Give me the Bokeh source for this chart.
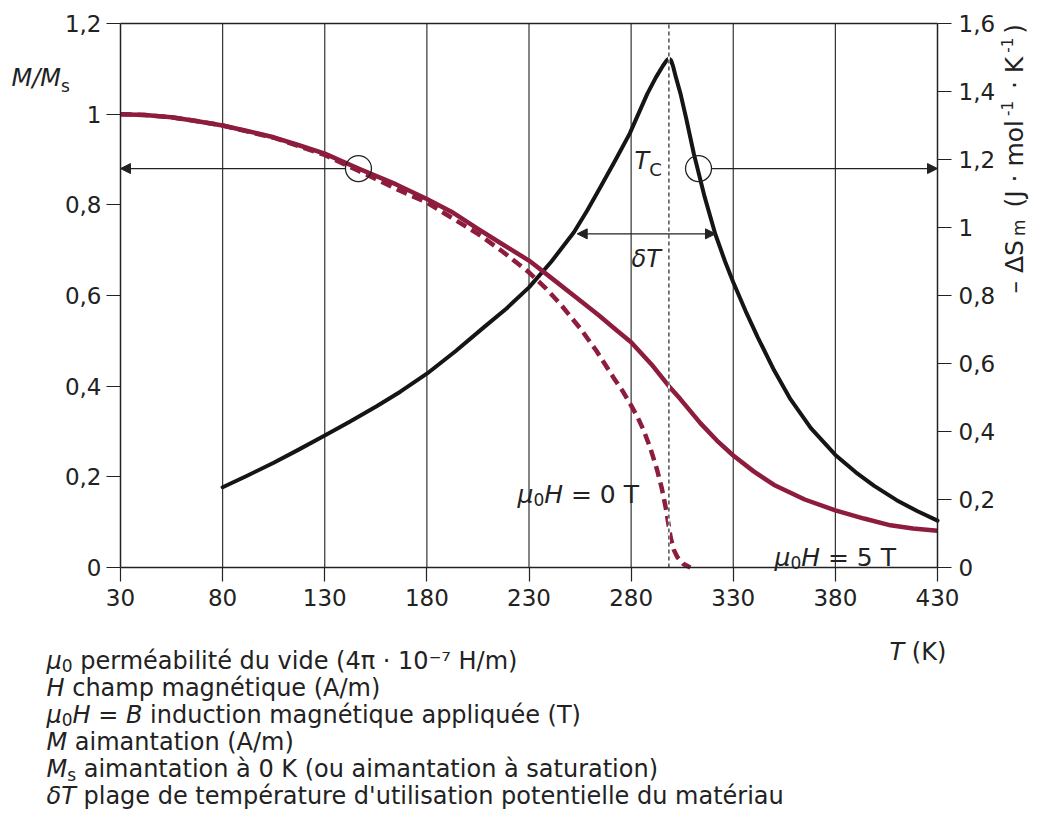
import math
from bokeh.plotting import figure
from bokeh.models import (Range1d, LinearAxis, FixedTicker, Label, Arrow, NormalHead,
                          CustomJSTickFormatter)
from bokeh.embed import file_html
from bokeh.resources import INLINE

# ---------------- data ----------------
x_ticks = [30, 80, 130, 180, 230, 280, 330, 380, 430]
m_ticks = [0, 0.2, 0.4, 0.6, 0.8, 1, 1.2]
s_ticks = [0, 0.2, 0.4, 0.6, 0.8, 1, 1.2, 1.4, 1.6]

# M/Ms, mu0H = 5 T (solid)
T_5T = [30, 42, 55, 67, 80, 92, 105, 117, 130, 146.5, 155, 165, 180, 192, 205, 217, 230,
        242, 255, 264, 273, 280, 290, 298.5, 304, 309, 314, 322, 330, 340, 350, 365, 380,
        394, 407, 418, 430]
M_5T = [1.0, 0.998, 0.993, 0.985, 0.975, 0.963, 0.949, 0.932, 0.913, 0.88, 0.864, 0.845,
        0.813, 0.785, 0.747, 0.713, 0.677, 0.635, 0.589, 0.557, 0.523, 0.497, 0.448, 0.400,
        0.372, 0.345, 0.318, 0.280, 0.247, 0.212, 0.182, 0.150, 0.126, 0.108, 0.093, 0.086,
        0.081]

# M/Ms, mu0H = 0 T (dashed)
T_0T = [30, 42, 55, 67, 80, 92, 105, 117, 130, 146.5, 155, 165, 180, 192, 205, 217, 230,
        238, 245, 255, 263, 271.5, 276, 279.7, 283, 286.2, 289.5, 292.8, 295, 296.9, 298.3,
        299.3, 300.8, 302.6, 305.5, 309]
M_0T = [1.0, 0.998, 0.993, 0.985, 0.975, 0.962, 0.948, 0.930, 0.910, 0.875, 0.857, 0.835,
        0.805, 0.772, 0.736, 0.697, 0.651, 0.617, 0.583, 0.528, 0.478, 0.418, 0.388, 0.360,
        0.333, 0.302, 0.262, 0.214, 0.175, 0.133, 0.095, 0.067, 0.040, 0.023, 0.008, 0.0]

# -Delta S_m (right axis, J/(mol K))
T_S = [80, 92, 105, 117, 130, 142, 155.6, 167, 180, 194, 208, 219, 230, 241, 252, 258.5,
       265, 272, 279.3, 284, 287.9, 292, 295.5, 297.5, 298.5, 299.5, 300.5, 302, 304.2, 307,
       310.7, 316, 321.2, 326, 330, 336, 342, 350, 358, 368, 380, 390, 399, 410, 420, 430]
S_m = [0.236, 0.270, 0.308, 0.346, 0.388, 0.428, 0.475, 0.517, 0.570, 0.636, 0.707, 0.762,
       0.824, 0.900, 0.986, 1.050, 1.119, 1.195, 1.276, 1.340, 1.393, 1.440, 1.475, 1.492,
       1.497, 1.492, 1.475, 1.440, 1.393, 1.320, 1.217, 1.090, 0.981, 0.900, 0.839, 0.755,
       0.677, 0.580, 0.495, 0.410, 0.331, 0.280, 0.240, 0.198, 0.166, 0.138]

T_curie = 298.5
circle_T = [146.5, 313]
circle_M = [0.88, 0.88]
dT_range = [253.6, 321.3]
dT_level = 0.736

# ---------------- geometry / styling ----------------
RED = "#8D1C3D"
BLK = "#151515"
TXT = "#222222"
FONT = "DejaVu Sans"

W, H = 1030, 811
FL, FR, FT, FB = 120, 937, 23, 567          # plot box in canvas px
PX_PER_T = (FR - FL) / 400.0
PX_PER_M = (FB - FT) / 1.2
S_PER_M = 1.6 / 1.2


def tx(px):
    return 30 + (px - FL) / PX_PER_T


def ty(py):
    return (FB - py) / PX_PER_M


p = figure(width=W, height=H,
           x_range=Range1d(tx(0), tx(W)), y_range=Range1d(ty(H), ty(0)),
           output_backend="svg", toolbar_location=None,
           min_border_left=0, min_border_right=0, min_border_top=0, min_border_bottom=0)
p.title.visible = False
p.extra_y_ranges = {"S": Range1d(ty(H) * S_PER_M, ty(0) * S_PER_M)}
p.background_fill_color = "white"
p.border_fill_color = "white"
p.outline_line_color = None
p.grid.visible = False

fmt = CustomJSTickFormatter(code="""
const s = tick.toFixed(1);
return s.endsWith('.0') ? s.slice(0, -2) : s.replace('.', ',');
""")


def style_axis(ax):
    ax.axis_line_color = TXT
    ax.axis_line_width = 1.5
    ax.major_tick_line_color = TXT
    ax.major_tick_line_width = 1.2
    ax.major_tick_out = 14
    ax.major_tick_in = 0
    ax.minor_tick_out = 0
    ax.minor_tick_in = 0
    ax.major_label_text_font = FONT
    ax.major_label_text_font_size = "23px"
    ax.major_label_text_color = TXT


xa = p.xaxis[0]
xa.ticker = FixedTicker(ticks=x_ticks)
xa.fixed_location = 0
xa.bounds = (30, 430)
style_axis(xa)
xa.major_label_standoff = 7

ya = p.yaxis[0]
ya.ticker = FixedTicker(ticks=m_ticks)
ya.formatter = fmt
ya.fixed_location = 30
ya.bounds = (0, 1.2)
style_axis(ya)
ya.major_label_standoff = 5

ax_r = LinearAxis(y_range_name="S", ticker=FixedTicker(ticks=s_ticks), formatter=fmt,
                  fixed_location=430, bounds=(0, 1.6))
style_axis(ax_r)
ax_r.major_label_standoff = 7
p.add_layout(ax_r, "right")

ax_t = LinearAxis(ticker=FixedTicker(ticks=[]), fixed_location=1.2, bounds=(30, 430))
style_axis(ax_t)
ax_t.major_tick_out = 0
ax_t.major_label_text_font_size = "0px"
p.add_layout(ax_t, "above")

# vertical grid lines at the inner T ticks
grid_T = x_ticks[1:-1]
p.segment(x0=grid_T, y0=0, x1=grid_T, y1=1.2, line_color="#333333", line_width=1.2)

# curves
p.line(T_S, S_m, y_range_name="S", line_color=BLK, line_width=4, line_join="round",
       line_cap="round")
p.line(T_5T, M_5T, line_color=RED, line_width=4.5, line_join="round")
p.line(T_0T, M_0T, line_color=RED, line_width=4.5, line_dash="11 6", line_join="round")

# Curie temperature line
p.segment(x0=[T_curie], y0=0, x1=[T_curie], y1=1.2, line_color="white", line_width=2)
p.segment(x0=[T_curie], y0=0, x1=[T_curie], y1=1.2, line_color=TXT, line_width=1.2,
          line_dash="4 3")

# circles + arrows
p.scatter(circle_T, circle_M, marker="circle", size=26, fill_color=None, line_color=TXT,
          line_width=1.3)
r_T = 13 / PX_PER_T


def head():
    return NormalHead(size=10, fill_color=TXT, line_color=TXT, line_width=1)


p.add_layout(Arrow(end=head(), x_start=circle_T[0] - r_T, y_start=circle_M[0],
                   x_end=30, y_end=circle_M[0], line_color=TXT, line_width=1.2))
p.add_layout(Arrow(end=head(), x_start=circle_T[1] + r_T, y_start=circle_M[1],
                   x_end=430, y_end=circle_M[1], line_color=TXT, line_width=1.2))
p.add_layout(Arrow(start=head(), end=head(), x_start=dT_range[0], y_start=dT_level,
                   x_end=dT_range[1], y_end=dT_level, line_color=TXT, line_width=1.2))

# ---------------- texts ----------------
ADV = {' ': .318, "'": .275, '(': .390, ')': .390, ',': .318, '-': .361, '.': .318,
       '/': .337, '=': .838, 'A': .684, 'B': .686, 'C': .698, 'H': .752, 'J': .295,
       'K': .656, 'M': .863, 'S': .635, 'T': .611, 'a': .613, 'b': .635, 'c': .550,
       'd': .635, 'e': .615, 'g': .635, 'h': .634, 'i': .278, 'l': .278, 'm': .974,
       'n': .634, 'o': .612, 'p': .635, 'q': .635, 'r': .411, 's': .521, 't': .392,
       'u': .634, 'v': .592, 'é': .615, 'à': .613, '·': .318, 'μ': .636, 'π': .602,
       'δ': .612, 'Δ': .684, '–': .5, '⁻': .4, '⁷': .4}


def tw(s, size):
    return sum(ADV.get(c, .636) for c in s) * size


def place(x0, y0, runs, angle=0.0, gap=0.0, baseline="alphabetic"):
    pos = 0.0
    for text, size, style, dy in runs:
        lead = len(text) - len(text.lstrip(' '))
        pos += lead * ADV[' '] * size
        t = text.lstrip(' ')
        if angle == 0:
            px, py = x0 + pos, y0 + dy
        else:
            px, py = x0 + dy, y0 - pos
        p.add_layout(Label(x=tx(px), y=ty(py), text=t, text_font=FONT,
                           text_font_size=f"{size}px", text_font_style=style,
                           text_color=TXT, text_baseline=baseline, text_align="left",
                           angle=angle))
        pos += tw(t, size) + gap


# axis titles
place(11, 77, [("M/M", 24, "italic", 0), ("s", 17, "normal", 8)])
place(889, 651, [("T", 24, "italic", 0), (" (K)", 24, "normal", 0)])
place(1014, 293, [("– ΔS", 25, "normal", 0), ("m", 17, "normal", 4),
                  (" (J · mol", 25, "normal", 0), ("-1", 15, "normal", -8),
                  (" · K", 25, "normal", 0), ("-1", 15, "normal", -8),
                  (")", 25, "normal", 0)], angle=math.pi / 2, gap=4, baseline="middle")

# in-plot annotations
place(634, 160, [("T", 24, "italic", 0), ("C", 18, "normal", 9)])
place(631, 258, [("δ", 24, "italic", 0), ("T", 24, "italic", 0)])
place(517, 494, [("μ", 25, "italic", 0), ("0", 17, "normal", 5), ("H", 25, "italic", 0),
                 (" = 0 T", 25, "normal", 0)])
place(774, 557, [("μ", 25, "italic", 0), ("0", 17, "normal", 5), ("H", 25, "italic", 0),
                 (" = 5 T", 25, "normal", 0)])

# definitions below the chart
FS, SUB = 24, 17
BX = 46
lines = [
    [("μ", FS, "italic", 0), ("0", SUB, "normal", 5),
     (" perméabilité du vide (4π · 10⁻⁷ H/m)", FS, "normal", 0)],
    [("H", FS, "italic", 0), (" champ magnétique (A/m)", FS, "normal", 0)],
    [("μ", FS, "italic", 0), ("0", SUB, "normal", 5), ("H", FS, "italic", 0),
     (" = ", FS, "normal", 0), ("B", FS, "italic", 0),
     (" induction magnétique appliquée (T)", FS, "normal", 0)],
    [("M", FS, "italic", 0), (" aimantation (A/m)", FS, "normal", 0)],
    [("M", FS, "italic", 0), ("s", SUB, "normal", 6),
     (" aimantation à 0 K (ou aimantation à saturation)", FS, "normal", 0)],
    [("δ", FS, "italic", 0), ("T", FS, "italic", 0),
     (" plage de température d'utilisation potentielle du matériau", FS, "normal", 0)],
]
for i, runs in enumerate(lines):
    place(BX, 660 + 27 * i, runs)

open("out.html", "w").write(file_html(p, INLINE))
